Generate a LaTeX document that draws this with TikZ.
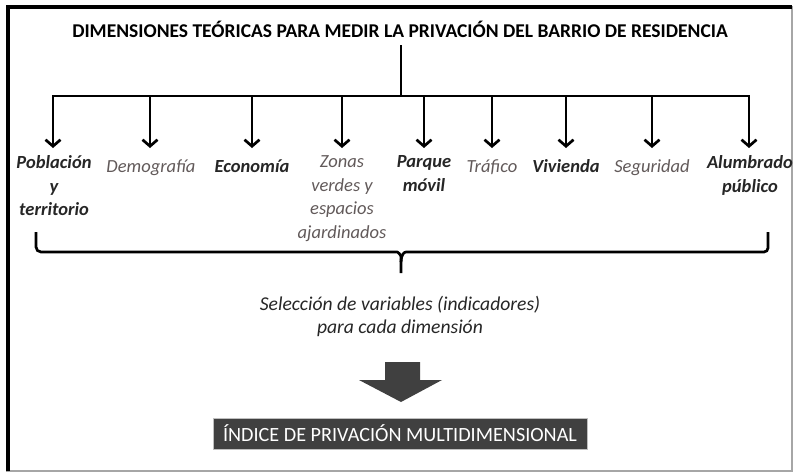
\documentclass[tikz,border=0pt]{standalone}
\usepackage{fontspec}
\setmainfont{Carlito}
\usetikzlibrary{arrows.meta}
\definecolor{lblgray}{HTML}{625A5A}
\definecolor{lblblack}{HTML}{262626}
\definecolor{boxgray}{HTML}{404040}
\begin{document}
\begin{tikzpicture}[x=1pt,y=-1pt,
  conn/.style={line width=2.7pt, draw=black},
  dimarrow/.style={conn, shorten >=7.5pt, -{Straight Barb[length=6.5pt,width=15pt,line width=2.7pt]}},
  lbl/.style={font=\fontsize{18.5}{23.5}\selectfont\itshape\bfseries, align=center, anchor=north, inner sep=0pt, text=lblblack, execute at begin node={\strut}},
  lblg/.style={lbl, font=\fontsize{18.5}{23.5}\selectfont\itshape\mdseries, text=lblgray},
  titlebox/.style={font=\fontsize{19.5}{22}\selectfont\bfseries, inner sep=0pt, text=black},
  selbox/.style={font=\fontsize{19.6}{23}\selectfont\itshape, align=center, inner sep=0pt, text=lblblack},
  indexbox/.style={fill=boxgray, draw=black!25, line width=0.8pt, text=white, font=\fontsize{20.2}{22}\selectfont, minimum width=374pt, minimum height=31pt, inner sep=0pt},
  bigarrow/.style={fill=boxgray, draw=none}
]
\useasboundingbox (0,0) rectangle (795,474);
\fill[white] (0,0) rectangle (795,474);
% frame
\draw[black!35, line width=2pt] (7,7) rectangle (792,471);
\draw[black, line width=4pt] (7.5,471) -- (7.5,6.5) -- (792,6.5);

% title
\node[titlebox] (title) at (400,29) {DIMENSIONES TEÓRICAS PARA MEDIR LA PRIVACIÓN DEL BARRIO DE RESIDENCIA};
\coordinate (stemtop) at (401,45);
\coordinate (hub) at (401,96);
\draw[conn] (stemtop) -- (hub);

% bar coordinates
\coordinate (b1) at (53,96);
\coordinate (b2) at (150,96);
\coordinate (b3) at (252,96);
\coordinate (b4) at (342,96);
\coordinate (b5) at (424,96);
\coordinate (b6) at (492,96);
\coordinate (b7) at (566,96);
\coordinate (b8) at (652,96);
\coordinate (b9) at (749,96);
\draw[conn, line cap=rect] (b1) -- (b9);

% labels
\node[lbl]  (l1) at (54,155.5) {Población\\y\\territorio};
\node[lblg] (l2) at (151,155.5) {Demografía};
\node[lbl]  (l3) at (252,155.5) {Economía};
\node[lblg] (l4) at (342,155.5) {Zonas\\verdes y\\espacios\\ajardinados};
\node[lbl]  (l5) at (424,155.5) {Parque\\móvil};
\node[lblg] (l6) at (492,155.5) {Tráfico};
\node[lbl]  (l7) at (566,155.5) {Vivienda};
\node[lblg] (l8) at (652,155.5) {Seguridad};
\node[lbl]  (l9) at (750,155.5) {Alumbrado\\público};

\foreach \i in {1,...,9} {
  \draw[dimarrow] (b\i) -- (b\i |- l\i.north);
}

% brace
\coordinate (brl) at (36,232);
\coordinate (brr) at (768,232);
\coordinate (brtip) at (401,273);
\draw[conn, rounded corners=5pt] (brl) -- (36,252) -- (392,252) .. controls (398,252) and (401,255) .. (401,262) -- (brtip);
\draw[conn, rounded corners=4pt] (brr) -- (768,252) -- (410,252) .. controls (404,252) and (401,255) .. (401,262);

% selection text
\node[selbox] (sel) at (400,316) {Selección de variables (indicadores)\\para cada dimensión};

% big arrow
\fill[bigarrow] (385,362) -- (420,362) -- (420,380) -- (442,380) -- (401,402) -- (359,380) -- (385,380) -- cycle;

% index box
\node[indexbox] (idx) at (400,433.5) {ÍNDICE DE PRIVACIÓN MULTIDIMENSIONAL};
\end{tikzpicture}
\end{document}
